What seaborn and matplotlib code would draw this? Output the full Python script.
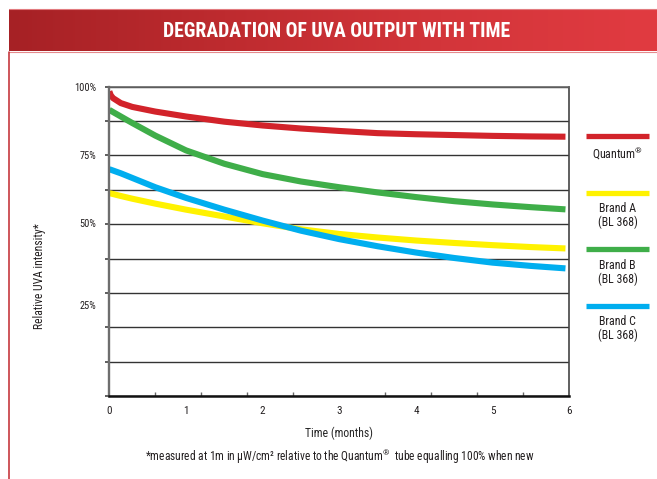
import numpy as np
import pandas as pd
import matplotlib
matplotlib.use("Agg")
import matplotlib.pyplot as plt
import seaborn as sns
from matplotlib import font_manager as fm
from matplotlib.lines import Line2D
from matplotlib.colors import LinearSegmentedColormap

# ---------------- data ----------------
months = [0, 0.02, 0.05, 0.15, 0.3, 0.6, 1.0, 1.5, 2.0, 2.5, 3.0, 3.5, 4.0, 4.5, 5.0, 5.5, 5.95]
quantum = [98.3, 96.8, 95.8, 94.0, 92.6, 90.9, 89.1, 87.2, 85.8, 84.7, 83.8, 83.0, 82.6, 82.3, 82.0, 81.8, 81.7]
brand_a = [61.0, 60.9, 60.7, 60.0, 59.0, 57.2, 55.0, 52.5, 50.0, 47.8, 46.1, 44.8, 43.7, 42.8, 42.0, 41.3, 40.8]
brand_b = [91.5, 91.2, 90.7, 89.1, 86.7, 82.1, 76.7, 71.8, 68.0, 65.3, 63.2, 61.3, 59.6, 58.1, 56.9, 55.9, 55.1]
brand_c = [69.8, 69.6, 69.3, 68.3, 66.6, 63.2, 59.3, 55.0, 51.0, 47.3, 44.2, 41.6, 39.3, 37.3, 35.6, 34.4, 33.5]

series_names = ["Quantum®", "Brand A\n(BL 368)", "Brand B\n(BL 368)", "Brand C\n(BL 368)"]
series_labels = ["Quantum$^{®}$", "Brand A\n(BL 368)", "Brand B\n(BL 368)", "Brand C\n(BL 368)"]
series_values = [quantum, brand_a, brand_b, brand_c]
series_colors = ["#D2232A", "#FFF200", "#3FAE49", "#00AEEF"]

x_tick_values = [0, 1, 2, 3, 4, 5, 6]
y_label_positions = [100, 75, 50, 20]
y_label_texts = ["100%", "75%", "50%", "25%"]

title = "DEGRADATION OF UVA OUTPUT WITH TIME"
x_title = "Time (months)"
y_title = "Relative UVA intensity*"
footnote = "*measured at 1m in µW/cm² relative to the Quantum$^{®}$  tube equalling 100% when new"

# ---------------- fonts ----------------
def has_font(name):
    try:
        return fm.findfont(fm.FontProperties(family=name), fallback_to_default=False)
    except Exception:
        return None

COND = "Roboto Condensed" if has_font("Roboto Condensed") else "Roboto"

sns.set_theme(style="white")
plt.rcParams["font.family"] = [COND, "DejaVu Sans"]
plt.rcParams["mathtext.fontset"] = "custom"
plt.rcParams["mathtext.rm"] = COND
plt.rcParams["mathtext.it"] = COND
plt.rcParams["mathtext.bf"] = COND
plt.rcParams["text.color"] = "#231F20"

W, H = 657, 479
fig = plt.figure(figsize=(W / 100, H / 100), dpi=100)
fig.patch.set_facecolor("white")

def fx(px):
    return px / W

def fy(py):
    return 1 - py / H

# ---------------- main axes ----------------
x0, x1, yt, yb = 109.3, 569.3, 86.7, 396.0
ax = fig.add_axes([fx(x0), fy(yb), fx(x1) - fx(x0), fy(yt) - fy(yb)])

df = pd.concat(
    [pd.DataFrame({"month": months, "value": v, "series": n}) for n, v in zip(series_names, series_values)],
    ignore_index=True,
)
sns.lineplot(data=df, x="month", y="value", hue="series", hue_order=series_names,
             palette=series_colors, linewidth=4.4, legend=False, sort=False, ax=ax,
             solid_capstyle="butt")

px_per_pct = 2.732
y_bottom = 100 - (yb - yt) / px_per_pct
ax.set_xlim(0, 6)
ax.set_ylim(y_bottom, 100)

ax.yaxis.remove_overlapping_locs = False
grid_pos = np.linspace(y_bottom, 100, 10)
ax.set_yticks(grid_pos)
ax.set_yticklabels([])
ax.tick_params(axis="y", which="major", direction="out", length=3, width=1.1, color="#333333", left=True)
ax.set_yticks(y_label_positions, minor=True)
ax.set_yticklabels(y_label_texts, minor=True)
ax.tick_params(axis="y", which="minor", length=0, pad=9.5, labelsize=7.5, labelcolor="#231F20")
ax.yaxis.grid(True, which="major", color="#333333", linewidth=1.0)
ax.xaxis.grid(False)
ax.set_axisbelow(True)

ax.set_xticks(x_tick_values)
ax.set_xticklabels([str(v) for v in x_tick_values])
ax.tick_params(axis="x", which="major", length=0, pad=7, labelsize=8, labelcolor="#231F20")
ax.set_xticks(np.linspace(0, 6, 11), minor=True)
ax.tick_params(axis="x", which="minor", direction="in", length=3.2, width=1.0, color="#666666", bottom=True)

ax.set_xlabel(x_title, fontsize=8.5, labelpad=8)
ax.set_ylabel("")

for side, col, lw in [("left", "#6E6E6E", 1.7), ("bottom", "#111111", 1.8),
                      ("right", "#444444", 1.2), ("top", "#666666", 1.2)]:
    ax.spines[side].set_visible(True)
    ax.spines[side].set_color(col)
    ax.spines[side].set_linewidth(lw)

fig.text(fx(40), fy(276), y_title, rotation=90, ha="center", va="center", fontsize=8.4)
fig.text(fx(340), fy(457), footnote, ha="center", va="center", fontsize=8.3)

# ---------------- banner ----------------
bx0, by0, by1 = 9, 8.5, 51.5
axb = fig.add_axes([fx(bx0), fy(by1), 1 - fx(bx0), fy(by0) - fy(by1)])
cmap = LinearSegmentedColormap.from_list("banner", ["#A62125", "#BE2B2F", "#D3353A", "#E13B41"])
axb.imshow(np.linspace(0, 1, 256)[None, :], aspect="auto", cmap=cmap, extent=[0, 1, 0, 1])
axb.set_xlim(0, 1)
axb.set_ylim(0, 1)
axb.axis("off")
fig.add_artist(Line2D([fx(bx0), 1], [fy(by0)] * 2, color="#E27B7F", lw=0.8, transform=fig.transFigure))
fig.add_artist(Line2D([fx(bx0), 1], [fy(by1)] * 2, color="#E58A8D", lw=0.8, transform=fig.transFigure))
fig.text(fx(336.5), fy(31.5), title, ha="center", va="center", color="white",
         fontsize=14.2, fontweight="bold")

# left red frame line
fig.add_artist(Line2D([fx(8.5)] * 2, [0, fy(by1)], color="#C1272D", lw=1.1, transform=fig.transFigure))

# ---------------- legend ----------------
leg_line_y = [135.7, 192.7, 249.3, 305.7]
for name, col, ly in zip(series_labels, series_colors, leg_line_y):
    fig.add_artist(Line2D([fx(586), fx(649)], [fy(ly)] * 2, color=col, lw=3.8,
                          solid_capstyle="butt", transform=fig.transFigure))
    fig.text(fx(617.5), fy(ly + 9.5), name, ha="center", va="top", fontsize=8.6,
             linespacing=1.05, multialignment="center")

fig.savefig("out.png", dpi=100, facecolor="white")
